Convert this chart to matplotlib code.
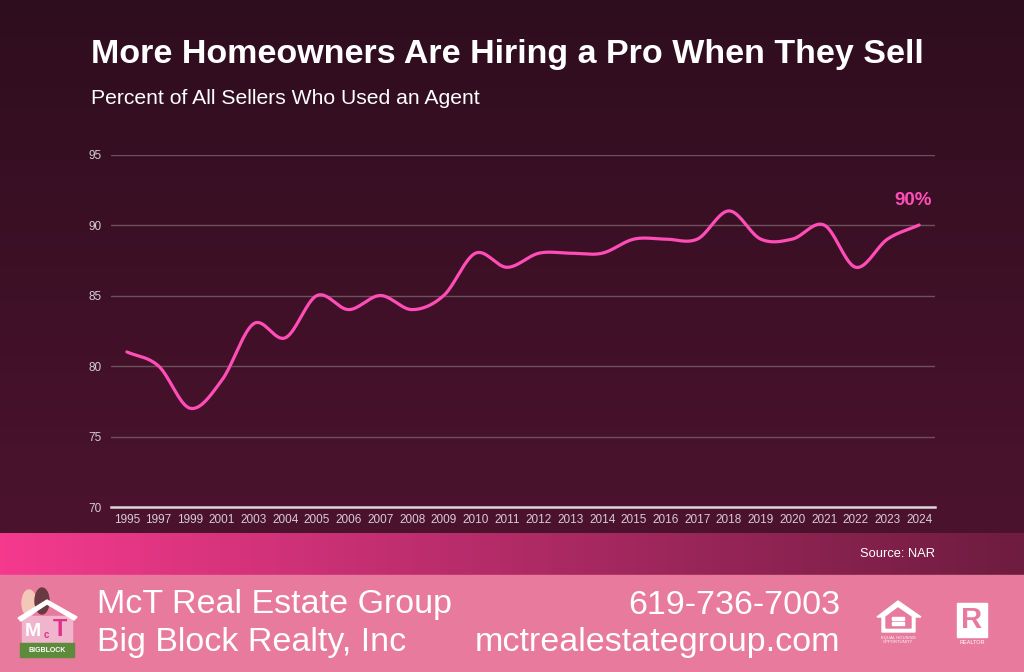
import numpy as np
import matplotlib.pyplot as plt
from matplotlib.patches import Rectangle, Polygon, Ellipse

plt.rcParams['font.family'] = ['Liberation Sans', 'DejaVu Sans']

years = ['1995', '1997', '1999', '2001', '2003', '2004', '2005', '2006', '2007', '2008',
         '2009', '2010', '2011', '2012', '2013', '2014', '2015', '2016', '2017', '2018',
         '2019', '2020', '2021', '2022', '2023', '2024']
pct = [81, 80, 77, 79, 83, 82, 85, 84, 85, 84,
       85, 88, 87, 88, 88, 88, 89, 89, 89, 91,
       89, 89, 90, 87, 89, 90]
y_ticks = [70, 75, 80, 85, 90, 95]

LINE = '#ff4db8'
FOOT = '#e87a9e'
W, H = 1024, 672


def catmull_rom(x, y, n=20):
    # smooth line through the points, like the office chart "smoothed line"
    x = np.asarray(x, float)
    y = np.asarray(y, float)
    px = np.concatenate([[2 * x[0] - x[1]], x, [2 * x[-1] - x[-2]]])
    py = np.concatenate([[2 * y[0] - y[1]], y, [2 * y[-1] - y[-2]]])
    xs, ys = [], []
    t = np.linspace(0, 1, n, endpoint=False)
    for i in range(1, len(px) - 2):
        for arr, out in ((px, xs), (py, ys)):
            p0, p1, p2, p3 = arr[i - 1], arr[i], arr[i + 1], arr[i + 2]
            out.extend(0.5 * (2 * p1 + (-p0 + p2) * t + (2 * p0 - 5 * p1 + 4 * p2 - p3) * t ** 2
                              + (-p0 + 3 * p1 - 3 * p2 + p3) * t ** 3))
    xs.append(x[-1])
    ys.append(y[-1])
    return np.array(xs), np.array(ys)


def px(xp, yp):
    # pixel position (from top-left) -> figure fraction
    return (xp / W, 1 - yp / H)


fig = plt.figure(figsize=(W / 100, H / 100), dpi=100)

# background
bg = fig.add_axes([0, 0, 1, 1], zorder=0)
bg.set_xlim(0, 1)
bg.set_ylim(0, 1)
bg.axis('off')
top = np.array([0x2e, 0x0d, 0x1e]) / 255
bot = np.array([0x4c, 0x13, 0x2e]) / 255
g = np.linspace(0, 1, 256)[:, None]
grad = top[None, None, :] * (1 - g[..., None]) + bot[None, None, :] * g[..., None]
bg.imshow(np.repeat(grad, 2, axis=1), extent=[0, 1, 0.2068, 1], aspect='auto')
left = np.array([0xf5, 0x3a, 0x8e]) / 255
right = np.array([0x6e, 0x1c, 0x40]) / 255
h = np.linspace(0, 1, 256)[None, :]
band = left[None, None, :] * (1 - h[..., None]) + right[None, None, :] * h[..., None]
bg.imshow(np.repeat(band, 2, axis=0), extent=[0, 1, 0.1443, 0.2068], aspect='auto')
bg.add_patch(Rectangle((0, 0), 1, 0.1443, color=FOOT))

# chart
ax = fig.add_axes([111 / W, 1 - 507 / H, 824 / W, (507 - 154.5) / H], zorder=1)
ax.patch.set_alpha(0)
x = np.arange(len(years))
sx, sy = catmull_rom(x, pct)
ax.plot(sx, sy, color=LINE, lw=2.3, solid_capstyle='round')
ax.set_xlim(-0.5, len(years) - 0.5)
ax.set_ylim(70, 95)
ax.set_yticks(y_ticks)
ax.set_xticks(x)
ax.set_xticklabels(years)
ax.grid(axis='y', color='#6e5060', lw=1)
ax.set_axisbelow(True)
for s in ['top', 'right', 'left']:
    ax.spines[s].set_visible(False)
ax.spines['bottom'].set_color('#ddd5d9')
ax.spines['bottom'].set_linewidth(1.8)
ax.tick_params(length=0, colors='#d8ccd2', labelsize=8.5)
ax.tick_params(axis='x', pad=5)
ax.tick_params(axis='y', pad=7)
ax.annotate(f'{pct[-1]}%', (x[-1], pct[-1]), xytext=(-4.5, 18), textcoords='offset points',
            ha='center', va='center', color=LINE, fontsize=13.5, fontweight='bold')

# titles
fig.text(91 / W, 1 - 55 / H, 'More Homeowners Are Hiring a Pro When They Sell',
         color='white', fontsize=24.5, fontweight='bold', va='center')
fig.text(91 / W, 1 - 98 / H, 'Percent of All Sellers Who Used an Agent',
         color='white', fontsize=15.2, va='center')
fig.text(935 / W, 1 - 554 / H, 'Source: NAR', color='white', fontsize=9.3, ha='right', va='center')

# footer
fig.text(97 / W, 1 - 605 / H, 'McT Real Estate Group', color='white', fontsize=24.5, va='center')
fig.text(97 / W, 1 - 643 / H, 'Big Block Realty, Inc', color='white', fontsize=24.5, va='center')
fig.text(840 / W, 1 - 605 / H, '619-736-7003', color='white', fontsize=24.5, va='center', ha='right')
fig.text(840 / W, 1 - 643 / H, 'mctrealestategroup.com', color='white', fontsize=24.5, va='center', ha='right')

# logo stand-in
bg.add_patch(Ellipse(px(29, 603), 14 / W, 26 / H, color='#f4c8b8'))
bg.add_patch(Ellipse(px(42, 601), 14 / W, 26 / H, color='#6a3a40'))
bg.add_patch(Rectangle(px(22, 643), 50 / W, 27 / H, color='#f0b4cc'))
bg.add_patch(Polygon([px(18, 618), px(47, 600), px(77, 617), px(74, 620), px(47, 604), px(21, 621)],
                     closed=True, color='white'))
bg.add_patch(Rectangle(px(20, 657), 54 / W, 14 / H, color='#5e8a3c'))
fig.text(*px(47, 650), 'BIGBLOCK', color='white', fontsize=5, ha='center', va='center', fontweight='bold')
fig.text(*px(33, 631), 'M', color='white', fontsize=14, ha='center', va='center', fontweight='bold')
fig.text(*px(60, 629), 'T', color='#e0308a', fontsize=17, ha='center', va='center', fontweight='bold')
fig.text(*px(46, 635), 'c', color='#e0308a', fontsize=7, ha='center', va='center', fontweight='bold')

# equal housing icon
bg.add_patch(Polygon([px(877, 617), px(898, 601), px(921, 617), px(915, 617), px(915, 632),
                      px(882, 632), px(882, 617)], closed=True, color='white'))
bg.add_patch(Polygon([px(886, 617), px(898, 608), px(911, 617), px(911, 628), px(886, 628)],
                     closed=True, color=FOOT))
bg.add_patch(Rectangle(px(892, 620), 12 / W, 3 / H, color='white'))
bg.add_patch(Rectangle(px(892, 625), 12 / W, 3 / H, color='white'))
fig.text(*px(898, 640), 'EQUAL HOUSING\nOPPORTUNITY', color='white', fontsize=3, ha='center', va='center',
         linespacing=0.9)

# realtor icon
bg.add_patch(Rectangle(px(957, 637), 30 / W, 34 / H, color='white'))
fig.text(*px(972, 620), 'R', color=FOOT, fontsize=21, ha='center', va='center', fontweight='bold')
fig.text(*px(972, 643), 'REALTOR', color='white', fontsize=4, ha='center', va='center')

fig.savefig('out.png', dpi=100)
